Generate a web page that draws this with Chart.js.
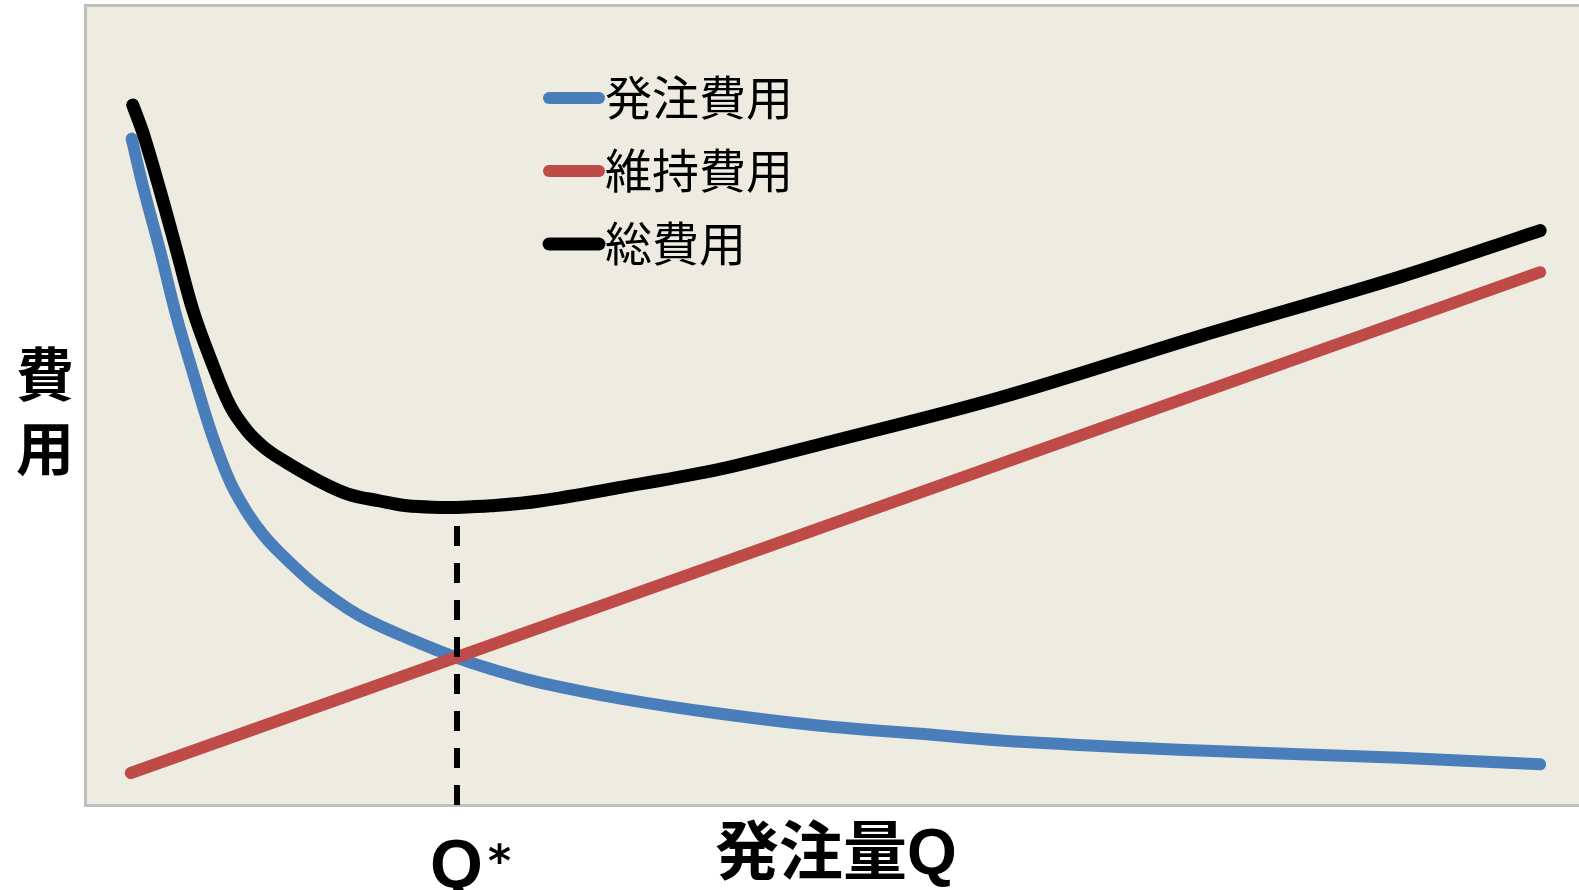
<!DOCTYPE html>
<html>
<head>
<meta charset="utf-8">
<script src="https://cdn.jsdelivr.net/npm/chart.js@4/dist/chart.umd.min.js"></script>
<style>
  html, body { margin: 0; padding: 0; background: #fff; }
  canvas { display: block; }
</style>
</head>
<body>
<canvas id="eoqChart" width="1579" height="890"></canvas>
<script>
// Values (x: order quantity Q, y: cost), both on a 0-100 scale
const orderQ = [3.06, 3.82, 4.96, 6.07, 7.17, 8.4, 9.65, 10.78, 11.86, 13.0, 15.2, 17.5, 19.0, 21.5, 24.85, 28.2, 30.4, 35.8, 42.5, 49.2, 55.9, 62.6, 74.6, 88.0, 97.4];
const orderCost = [83.3, 77.3, 69.3, 61.0, 54.0, 46.5, 40.4, 36.6, 33.8, 31.5, 27.7, 24.6, 23.0, 20.9, 18.4, 16.4, 15.3, 13.3, 11.4, 9.9, 8.9, 7.9, 6.8, 5.9, 5.1];

const holdQ = [3.0, 97.4];
const holdCost = [4.0, 66.6];

const totalQ = [3.13, 3.82, 4.96, 6.07, 7.17, 8.31, 9.65, 10.78, 11.86, 13.0, 15.2, 17.5, 19.7, 21.5, 23.7, 24.85, 27.1, 30.4, 35.8, 42.5, 49.2, 61.2, 74.6, 88.0, 97.4];
const totalCost = [87.5, 84.0, 76.8, 69.3, 61.8, 55.9, 49.9, 46.8, 44.8, 43.3, 40.9, 38.9, 38.0, 37.4, 37.2, 37.2, 37.4, 38.0, 39.7, 42.0, 45.1, 50.9, 58.6, 66.0, 71.8];

const optimumQ = 24.85;
const optimumCost = [0, 37.2];

const seriesLabels = ['発注費用', '維持費用', '総費用'];
const seriesColors = ['#4A7EBB', '#BE4B48', '#000000'];

const xTitle = '発注量Q';
const yTitle = ['費', '用'];

const zip = (xs, ys) => xs.map((x, i) => ({ x: x, y: ys[i] }));

const frame = {
    id: 'frame',
    beforeDraw(chart) {
        const { ctx, chartArea: a } = chart;
        ctx.save();
        ctx.fillStyle = '#EEECE1';
        ctx.fillRect(a.left, a.top, a.right - a.left, a.bottom - a.top);
        ctx.strokeStyle = '#BFBFBF';
        ctx.lineWidth = 3;
        ctx.beginPath();
        ctx.moveTo(a.right + 5, a.top + 0.5);
        ctx.lineTo(a.left - 0.5, a.top + 0.5);
        ctx.lineTo(a.left - 0.5, a.bottom + 0.5);
        ctx.lineTo(a.right + 5, a.bottom + 0.5);
        ctx.stroke();
        ctx.restore();
    },
    afterDraw(chart) {
        const ctx = chart.ctx;
        ctx.save();

        // legend inside the plot
        const legendY = [98, 171, 244];
        const widths = [12, 12, 13];
        seriesLabels.forEach((label, i) => {
            ctx.strokeStyle = seriesColors[i];
            ctx.lineWidth = widths[i];
            ctx.lineCap = 'round';
            ctx.beginPath();
            ctx.moveTo(549, legendY[i]);
            ctx.lineTo(599, legendY[i]);
            ctx.stroke();
            ctx.fillStyle = '#000';
            ctx.font = '47px "Noto Sans CJK JP"';
            ctx.textAlign = 'left';
            ctx.textBaseline = 'alphabetic';
            ctx.fillText(label, 605, legendY[i] + 17);
        });

        // axis titles
        ctx.fillStyle = '#000';
        ctx.font = 'bold 58px "Liberation Sans", "Noto Sans CJK JP"';
        ctx.textAlign = 'center';
        ctx.fillText(yTitle[0], 45, 396);
        ctx.fillText(yTitle[1], 45, 470);
        ctx.font = 'bold 64px "Liberation Sans", "Noto Sans CJK JP"';
        ctx.fillText(xTitle, 836, 874);

        // Q* under the dashed line
        const qx = chart.scales.x.getPixelForValue(optimumQ);
        ctx.textAlign = 'left';
        ctx.font = 'bold 68px "Liberation Sans"';
        ctx.fillText('Q', qx - 27, 887);
        ctx.font = 'bold 44px "DejaVu Sans"';
        ctx.fillText('*', qx + 31, 876);
        ctx.restore();
    }
};

new Chart(document.getElementById('eoqChart'), {
    type: 'line',
    data: {
        datasets: [
            {
                label: seriesLabels[2],
                data: zip(totalQ, totalCost),
                borderColor: seriesColors[2],
                borderWidth: 13,
                order: 0
            },
            {
                label: 'Q*',
                data: optimumCost.map(c => ({ x: optimumQ, y: c })),
                borderColor: '#000',
                borderWidth: 6,
                borderDash: [20, 17],
                borderCapStyle: 'butt',
                tension: 0,
                order: 1
            },
            {
                label: seriesLabels[1],
                data: zip(holdQ, holdCost),
                borderColor: seriesColors[1],
                borderWidth: 12,
                tension: 0,
                order: 2
            },
            {
                label: seriesLabels[0],
                data: zip(orderQ, orderCost),
                borderColor: seriesColors[0],
                borderWidth: 12,
                order: 3
            }
        ]
    },
    options: {
        responsive: false,
        animation: false,
        layout: { padding: { left: 86, top: 5, right: 0, bottom: 85 } },
        elements: {
            point: { radius: 0 },
            line: { tension: 0.35, borderCapStyle: 'round', borderJoinStyle: 'round', fill: false }
        },
        plugins: {
            legend: { display: false },
            tooltip: { enabled: false }
        },
        scales: {
            x: { type: 'linear', min: 0, max: 100, display: false },
            y: { type: 'linear', min: 0, max: 100, display: false }
        }
    },
    plugins: [frame]
});
</script>
</body>
</html>
